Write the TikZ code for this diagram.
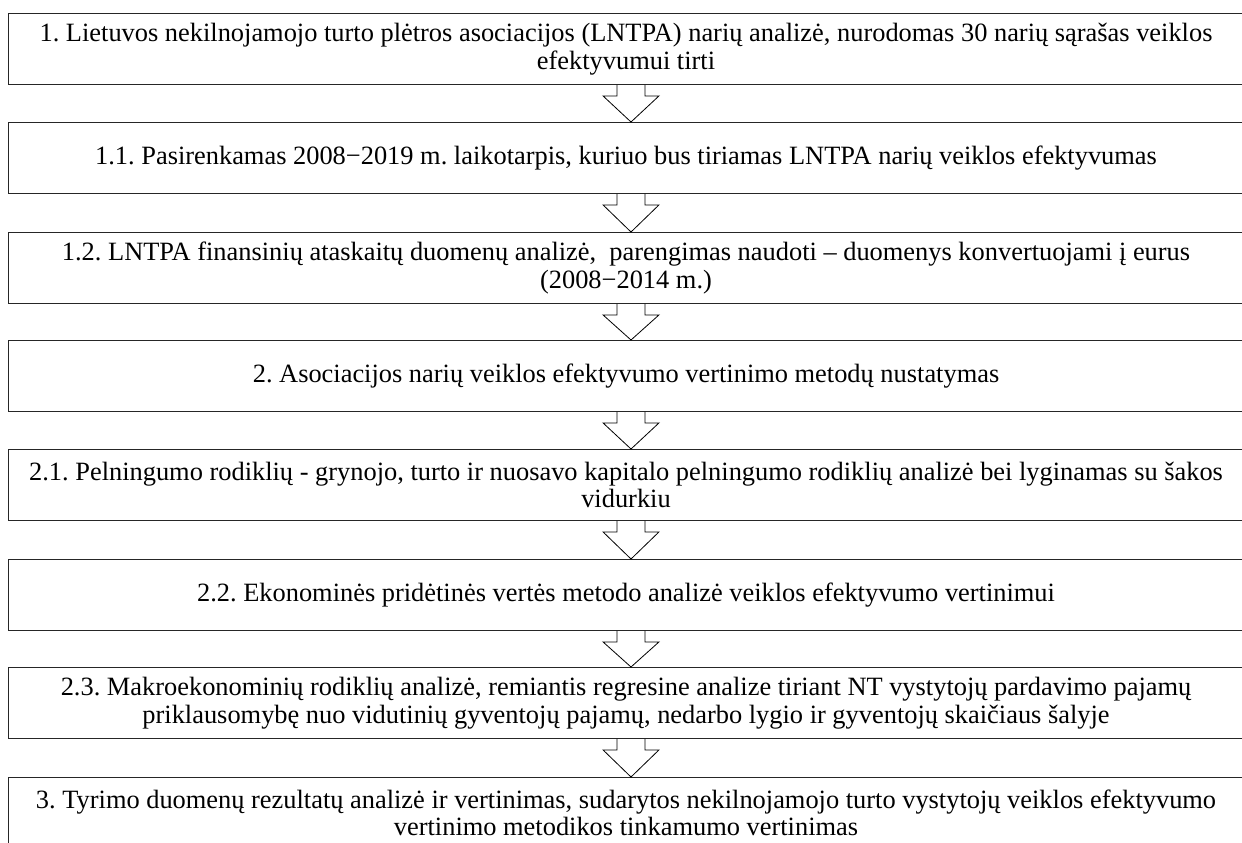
\documentclass[tikz,border=0pt]{standalone}
\usepackage{fontspec}
\setmainfont{Liberation Serif}
\frenchspacing
\newcommand\flowarr[2]{%
  \draw[blockarrow] ([xshift=-9pt]#1.south) -- ++(0,11) -- ++(-14,0) -- ([xshift=5pt]#2.north)
    -- ([xshift=33pt,yshift=-11pt]#1.south) -- ++(-14,0) -- ++(0,-11);}
\begin{document}
\begin{tikzpicture}[x=1pt,y=-1pt,
  box/.style={draw=black!85, line width=0.9pt, minimum width=1236pt, minimum height=71pt,
    inner sep=0pt, align=center, anchor=north, font=\fontsize{26.4}{27.5}\selectfont},
  blockarrow/.style={draw=black, line width=0.8pt, line join=miter}]
\useasboundingbox (0,0) rectangle (1242,843);
\clip (0,0) rectangle (1242,843);
\node[box] (b1) at (626,13) {1. Lietuvos nekilnojamojo turto plėtros asociacijos (LNTPA) narių analizė, nurodomas 30 narių sąrašas veiklos\\efektyvumui tirti};
\node[box] (b2) at (626,122) {1.1. Pasirenkamas 2008−2019 m. laikotarpis, kuriuo bus tiriamas LNTPA narių veiklos efektyvumas};
\node[box] (b3) at (626,232) {1.2. LNTPA finansinių ataskaitų duomenų analizė,\ \ parengimas naudoti – duomenys konvertuojami į eurus\\(2008−2014 m.)};
\node[box] (b4) at (626,340) {2. Asociacijos narių veiklos efektyvumo vertinimo metodų nustatymas};
\node[box] (b5) at (626,449) {2.1. Pelningumo rodiklių - grynojo, turto ir nuosavo kapitalo pelningumo rodiklių analizė bei lyginamas su šakos\\vidurkiu};
\node[box] (b6) at (626,559) {2.2. Ekonominės pridėtinės vertės metodo analizė veiklos efektyvumo vertinimui};
\node[box] (b7) at (626,667) {2.3. Makroekonominių rodiklių analizė, remiantis regresine analize tiriant NT vystytojų pardavimo pajamų\\priklausomybę nuo vidutinių gyventojų pajamų, nedarbo lygio ir gyventojų skaičiaus šalyje};
\node[box] (b8) at (626,777) {3. Tyrimo duomenų rezultatų analizė ir vertinimas, sudarytos nekilnojamojo turto vystytojų veiklos efektyvumo\\vertinimo metodikos tinkamumo vertinimas};
\flowarr{b1}{b2}
\flowarr{b2}{b3}
\flowarr{b3}{b4}
\flowarr{b4}{b5}
\flowarr{b5}{b6}
\flowarr{b6}{b7}
\flowarr{b7}{b8}
\end{tikzpicture}
\end{document}
